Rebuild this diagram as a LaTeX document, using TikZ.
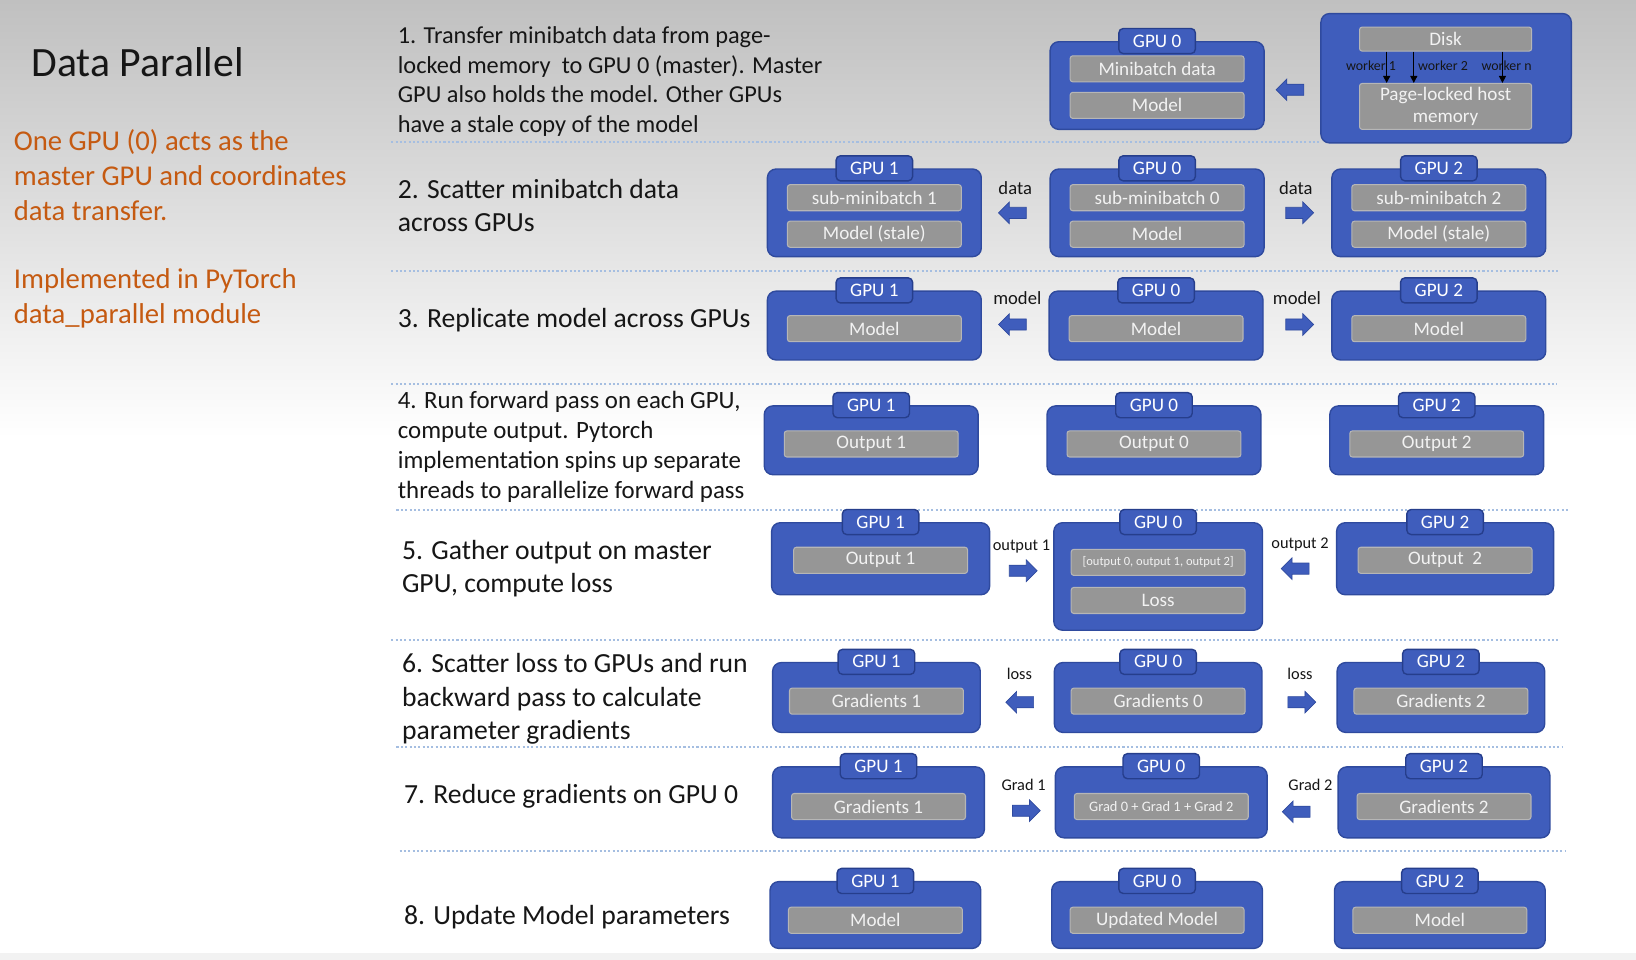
\documentclass[tikz,border=0pt]{standalone}
\usepackage{fontspec}
\setmainfont{Carlito}
\usetikzlibrary{shapes.arrows,arrows.meta}

\definecolor{gpublue}{RGB}{63,93,188}
\definecolor{gpuedge}{RGB}{47,74,158}
\definecolor{tabedge}{RGB}{38,62,140}
\definecolor{itemgray}{RGB}{150,150,150}
\definecolor{itemedge}{RGB}{182,182,182}
\definecolor{itemtext}{RGB}{242,242,242}
\definecolor{sepblue}{RGB}{165,190,225}
\definecolor{noteorange}{RGB}{197,90,17}
\definecolor{inktext}{RGB}{22,22,22}
\definecolor{bgtop}{RGB}{192,192,192}

\begin{document}
\begin{tikzpicture}[x=0.6pt,y=-0.6pt]
	\tikzset{
		gpu/.style={draw=gpuedge, fill=gpublue, line width=0.8pt, rounded corners=5pt,
			minimum width=123pt, minimum height=39.6pt, inner sep=0pt},
		gputab/.style={draw=tabedge, fill=gpublue, line width=0.8pt, rounded corners=2.5pt,
			minimum width=44pt, minimum height=14.4pt, inner sep=0pt, text=white,
			font=\fontsize{11}{12}\selectfont},
		item/.style={draw=itemedge, fill=itemgray, line width=0.6pt, rounded corners=1.5pt,
			minimum width=100pt, minimum height=15pt, inner sep=0pt, text=itemtext,
			font=\fontsize{11}{13.2}\selectfont},
		smallitem/.style={item, font=\fontsize{7.2}{9}\selectfont},
		blockarrow/.style={single arrow, fill=gpublue, draw=gpuedge, line width=0.4pt,
			minimum height=16pt, minimum width=12pt, single arrow head extend=3pt, inner sep=3pt},
		leftarrow/.style={blockarrow, shape border rotate=180},
		flowlabel/.style={text=inktext, inner sep=0pt, font=\fontsize{10.7}{12}\selectfont},
		flowlabelsmall/.style={flowlabel, font=\fontsize{9.4}{11}\selectfont},
		workerlabel/.style={text=inktext, inner sep=0pt, font=\fontsize{8}{9}\selectfont},
		steptext/.style={text=inktext, inner sep=0pt, align=left, anchor=west,
			font=\fontsize{15.9}{19.3}\selectfont},
		notetext/.style={text=noteorange, inner sep=0pt, align=left, anchor=west,
			font=\fontsize{16.5}{20.1}\selectfont},
		dotline/.style={draw=sepblue, line width=1.1pt, dash pattern=on 1.2pt off 1.3pt}
	}
	
	%% BACKGROUND
	\useasboundingbox (0,0) rectangle (1568,920);
	\fill[white] (0,0) rectangle (1568,920);
	\shade[top color=bgtop, bottom color=white] (0,0) rectangle (1568,420);
	\fill[black!5] (0,913) rectangle (1568,920);
	
	%% LEFT COLUMN
	\node[text=inktext, inner sep=0pt, anchor=base west, font=\fontsize{24}{28}\selectfont] (Title) at (30,73) {Data Parallel};
	\node[notetext] (NoteMaster) at (13,168) {One GPU (0) acts as the\\master GPU and coordinates\\data transfer.};
	\node[notetext] (NoteTorch) at (13,286) {Implemented in PyTorch\\data\_parallel module};
	
	%% SEPARATORS
	\foreach \y/\xa/\xb in {136/375/1266, 260/375/1495, 368/375/1492, 489/380/1503,
		613/375/1495, 716/380/1497, 816/383/1500}
		\draw[dotline] (\xa,\y) -- (\xb,\y);
	
	%% STEP 1
	\node[steptext, font=\fontsize{14}{17.1}\selectfont] (Step1) at (381,78) {1. Transfer minibatch data from page-\\locked memory~ to GPU 0 (master). Master\\GPU also holds the model. Other GPUs\\have a stale copy of the model};
	\node[gpu, minimum height=50.4pt] (S1G0) at (1109,82) {};
	\node[gputab] (S1G0tab) at (S1G0.north) {GPU 0};
	\node[item] (S1G0data) at (1109,66) {Minibatch data};
	\node[item] (S1G0model) at (1109,101) {Model};
	\node[leftarrow] (S1Arrow) at (1239,86) {};
	
	\node[gpu, minimum width=144pt, minimum height=74.4pt] (Host) at (1386,75) {};
	\node[item, minimum width=99pt, minimum height=13.8pt] (Disk) at (1385.5,37.5) {Disk};
	\node[item, minimum width=99pt, minimum height=26.4pt, align=center] (PageMem) at (1385.5,102) {Page-locked host\\memory};
	\node[workerlabel] (Worker1) at (1314,63) {worker 1};
	\node[workerlabel] (Worker2) at (1383,63) {worker 2};
	\node[workerlabel] (WorkerN) at (1444,63) {worker n};
	\foreach \wx in {1329,1355,1440}
		\draw[black, line width=0.7pt, -{Triangle[width=4pt,length=4pt]}] (Disk.south -| \wx,0) -- (PageMem.north -| \wx,0);
	
	%% STEP 2
	\node[steptext] (Step2) at (381,197) {2. Scatter minibatch data\\across GPUs};
	\node[gpu, minimum height=50.4pt] (S2G1) at (838,204) {};
	\node[gputab] (S2G1tab) at (S2G1.north) {GPU 1};
	\node[item] (S2G1data) at (838,189.5) {sub-minibatch 1};
	\node[item] (S2G1model) at (838,224.5) {Model (stale)};
	\node[gpu, minimum height=50.4pt] (S2G0) at (1109,204) {};
	\node[gputab] (S2G0tab) at (S2G0.north) {GPU 0};
	\node[item] (S2G0data) at (1109,189.5) {sub-minibatch 0};
	\node[item] (S2G0model) at (1109,224.5) {Model};
	\node[gpu, minimum height=50.4pt] (S2G2) at (1379,204) {};
	\node[gputab] (S2G2tab) at (S2G2.north) {GPU 2};
	\node[item] (S2G2data) at (1379,189.5) {sub-minibatch 2};
	\node[item] (S2G2model) at (1379,224.5) {Model (stale)};
	\node[leftarrow] (S2Left) at (973,204) {};
	\node[flowlabel] (S2LeftLbl) at (973,180) {data};
	\node[blockarrow] (S2Right) at (1243,204) {};
	\node[flowlabel] (S2RightLbl) at (1242,180) {data};
	
	%% STEP 3
	\node[steptext, anchor=base west] (Step3) at (381,314) {3. Replicate model across GPUs};
	\node[gpu] (S3G1) at (838,312) {};
	\node[gputab] (S3G1tab) at (S3G1.north) {GPU 1};
	\node[item] (S3G1model) at (838,315) {Model};
	\node[gpu] (S3G0) at (1108,312) {};
	\node[gputab] (S3G0tab) at (S3G0.north) {GPU 0};
	\node[item] (S3G0model) at (1108,315) {Model};
	\node[gpu] (S3G2) at (1379,312) {};
	\node[gputab] (S3G2tab) at (S3G2.north) {GPU 2};
	\node[item] (S3G2model) at (1379,315) {Model};
	\node[leftarrow] (S3Left) at (973,311) {};
	\node[flowlabel] (S3LeftLbl) at (975,286) {model};
	\node[blockarrow] (S3Right) at (1243,311) {};
	\node[flowlabel] (S3RightLbl) at (1243,286) {model};
	
	%% STEP 4
	\node[steptext, font=\fontsize{14.3}{17.2}\selectfont] (Step4) at (381,428) {4. Run forward pass on each GPU,\\compute output. Pytorch\\implementation spins up separate\\threads to parallelize forward pass};
	\node[gpu] (S4G1) at (835,422) {};
	\node[gputab] (S4G1tab) at (S4G1.north) {GPU 1};
	\node[item] (S4G1out) at (835,425.5) {Output 1};
	\node[gpu] (S4G0) at (1106,422) {};
	\node[gputab] (S4G0tab) at (S4G0.north) {GPU 0};
	\node[item] (S4G0out) at (1106,425.5) {Output 0};
	\node[gpu] (S4G2) at (1377,422) {};
	\node[gputab] (S4G2tab) at (S4G2.north) {GPU 2};
	\node[item] (S4G2out) at (1377,425.5) {Output 2};
	
	%% STEP 5
	\node[steptext] (Step5) at (385,545) {5. Gather output on master\\GPU, compute loss};
	\node[gpu, minimum width=125.4pt, minimum height=41.4pt] (S5G1) at (844,535.5) {};
	\node[gputab] (S5G1tab) at (S5G1.north) {GPU 1};
	\node[item] (S5G1out) at (844,537) {Output 1};
	\node[gpu, minimum width=120pt, minimum height=61.8pt] (S5G0) at (1110,552.5) {};
	\node[gputab] (S5G0tab) at (S5G0.north) {GPU 0};
	\node[smallitem] (S5G0all) at (1110,539) {[output 0, output 1, output 2]};
	\node[item] (S5G0loss) at (1110,575.5) {Loss};
	\node[gpu, minimum width=124.8pt, minimum height=41.4pt] (S5G2) at (1385,535.5) {};
	\node[gputab] (S5G2tab) at (S5G2.north) {GPU 2};
	\node[item] (S5G2out) at (1385,537) {Output~ 2};
	\node[blockarrow] (S5Right) at (978,547) {};
	\node[flowlabelsmall] (S5RightLbl) at (979,524) {output 1};
	\node[leftarrow] (S5Left) at (1244,545) {};
	\node[flowlabelsmall] (S5LeftLbl) at (1246,522) {output 2};
	
	%% STEP 6
	\node[steptext] (Step6) at (385,670) {6. Scatter loss to GPUs and run\\backward pass to calculate\\parameter gradients};
	\node[gpu, minimum width=119.4pt, minimum height=40.2pt] (S6G1) at (840,668.5) {};
	\node[gputab] (S6G1tab) at (S6G1.north) {GPU 1};
	\node[item] (S6G1grad) at (840,672) {Gradients 1};
	\node[gpu, minimum width=119.4pt, minimum height=40.2pt] (S6G0) at (1110,668.5) {};
	\node[gputab] (S6G0tab) at (S6G0.north) {GPU 0};
	\node[item] (S6G0grad) at (1110,672) {Gradients 0};
	\node[gpu, minimum width=119.4pt, minimum height=40.2pt] (S6G2) at (1381,668.5) {};
	\node[gputab] (S6G2tab) at (S6G2.north) {GPU 2};
	\node[item] (S6G2grad) at (1381,672) {Gradients 2};
	\node[leftarrow] (S6Left) at (980,673) {};
	\node[flowlabelsmall] (S6LeftLbl) at (977,646) {loss};
	\node[blockarrow] (S6Right) at (1245,673) {};
	\node[flowlabelsmall] (S6RightLbl) at (1246,646) {loss};
	
	%% STEP 7
	\node[steptext, anchor=base west] (Step7) at (387,770) {7. Reduce gradients on GPU 0};
	\node[gpu, minimum width=121.8pt, minimum height=40.8pt] (S7G1) at (842,769) {};
	\node[gputab] (S7G1tab) at (S7G1.north) {GPU 1};
	\node[item] (S7G1grad) at (842,773) {Gradients 1};
	\node[gpu, minimum width=121.8pt, minimum height=40.8pt] (S7G0) at (1113,769) {};
	\node[gputab] (S7G0tab) at (S7G0.north) {GPU 0};
	\node[smallitem, font=\fontsize{8.3}{10}\selectfont] (S7G0sum) at (1113,773) {Grad 0 + Grad 1 + Grad 2};
	\node[gpu, minimum width=121.8pt, minimum height=40.8pt] (S7G2) at (1384,769) {};
	\node[gputab] (S7G2tab) at (S7G2.north) {GPU 2};
	\node[item] (S7G2grad) at (1384,773) {Gradients 2};
	\node[blockarrow] (S7Right) at (981,777) {};
	\node[flowlabelsmall] (S7RightLbl) at (981,752) {Grad 1};
	\node[leftarrow] (S7Left) at (1245,778) {};
	\node[flowlabelsmall] (S7LeftLbl) at (1256,752) {Grad 2};
	
	%% STEP 8
	\node[steptext, anchor=base west] (Step8) at (387,886) {8. Update Model parameters};
	\node[gpu, minimum width=121.2pt, minimum height=38.4pt] (S8G1) at (839,877) {};
	\node[gputab] (S8G1tab) at (S8G1.north) {GPU 1};
	\node[item] (S8G1model) at (839,882) {Model};
	\node[gpu, minimum width=121.2pt, minimum height=38.4pt] (S8G0) at (1109,877) {};
	\node[gputab] (S8G0tab) at (S8G0.north) {GPU 0};
	\node[item] (S8G0model) at (1109,882) {Updated Model};
	\node[gpu, minimum width=121.2pt, minimum height=38.4pt] (S8G2) at (1380,877) {};
	\node[gputab] (S8G2tab) at (S8G2.north) {GPU 2};
	\node[item] (S8G2model) at (1380,882) {Model};
	
\end{tikzpicture}
\end{document}
